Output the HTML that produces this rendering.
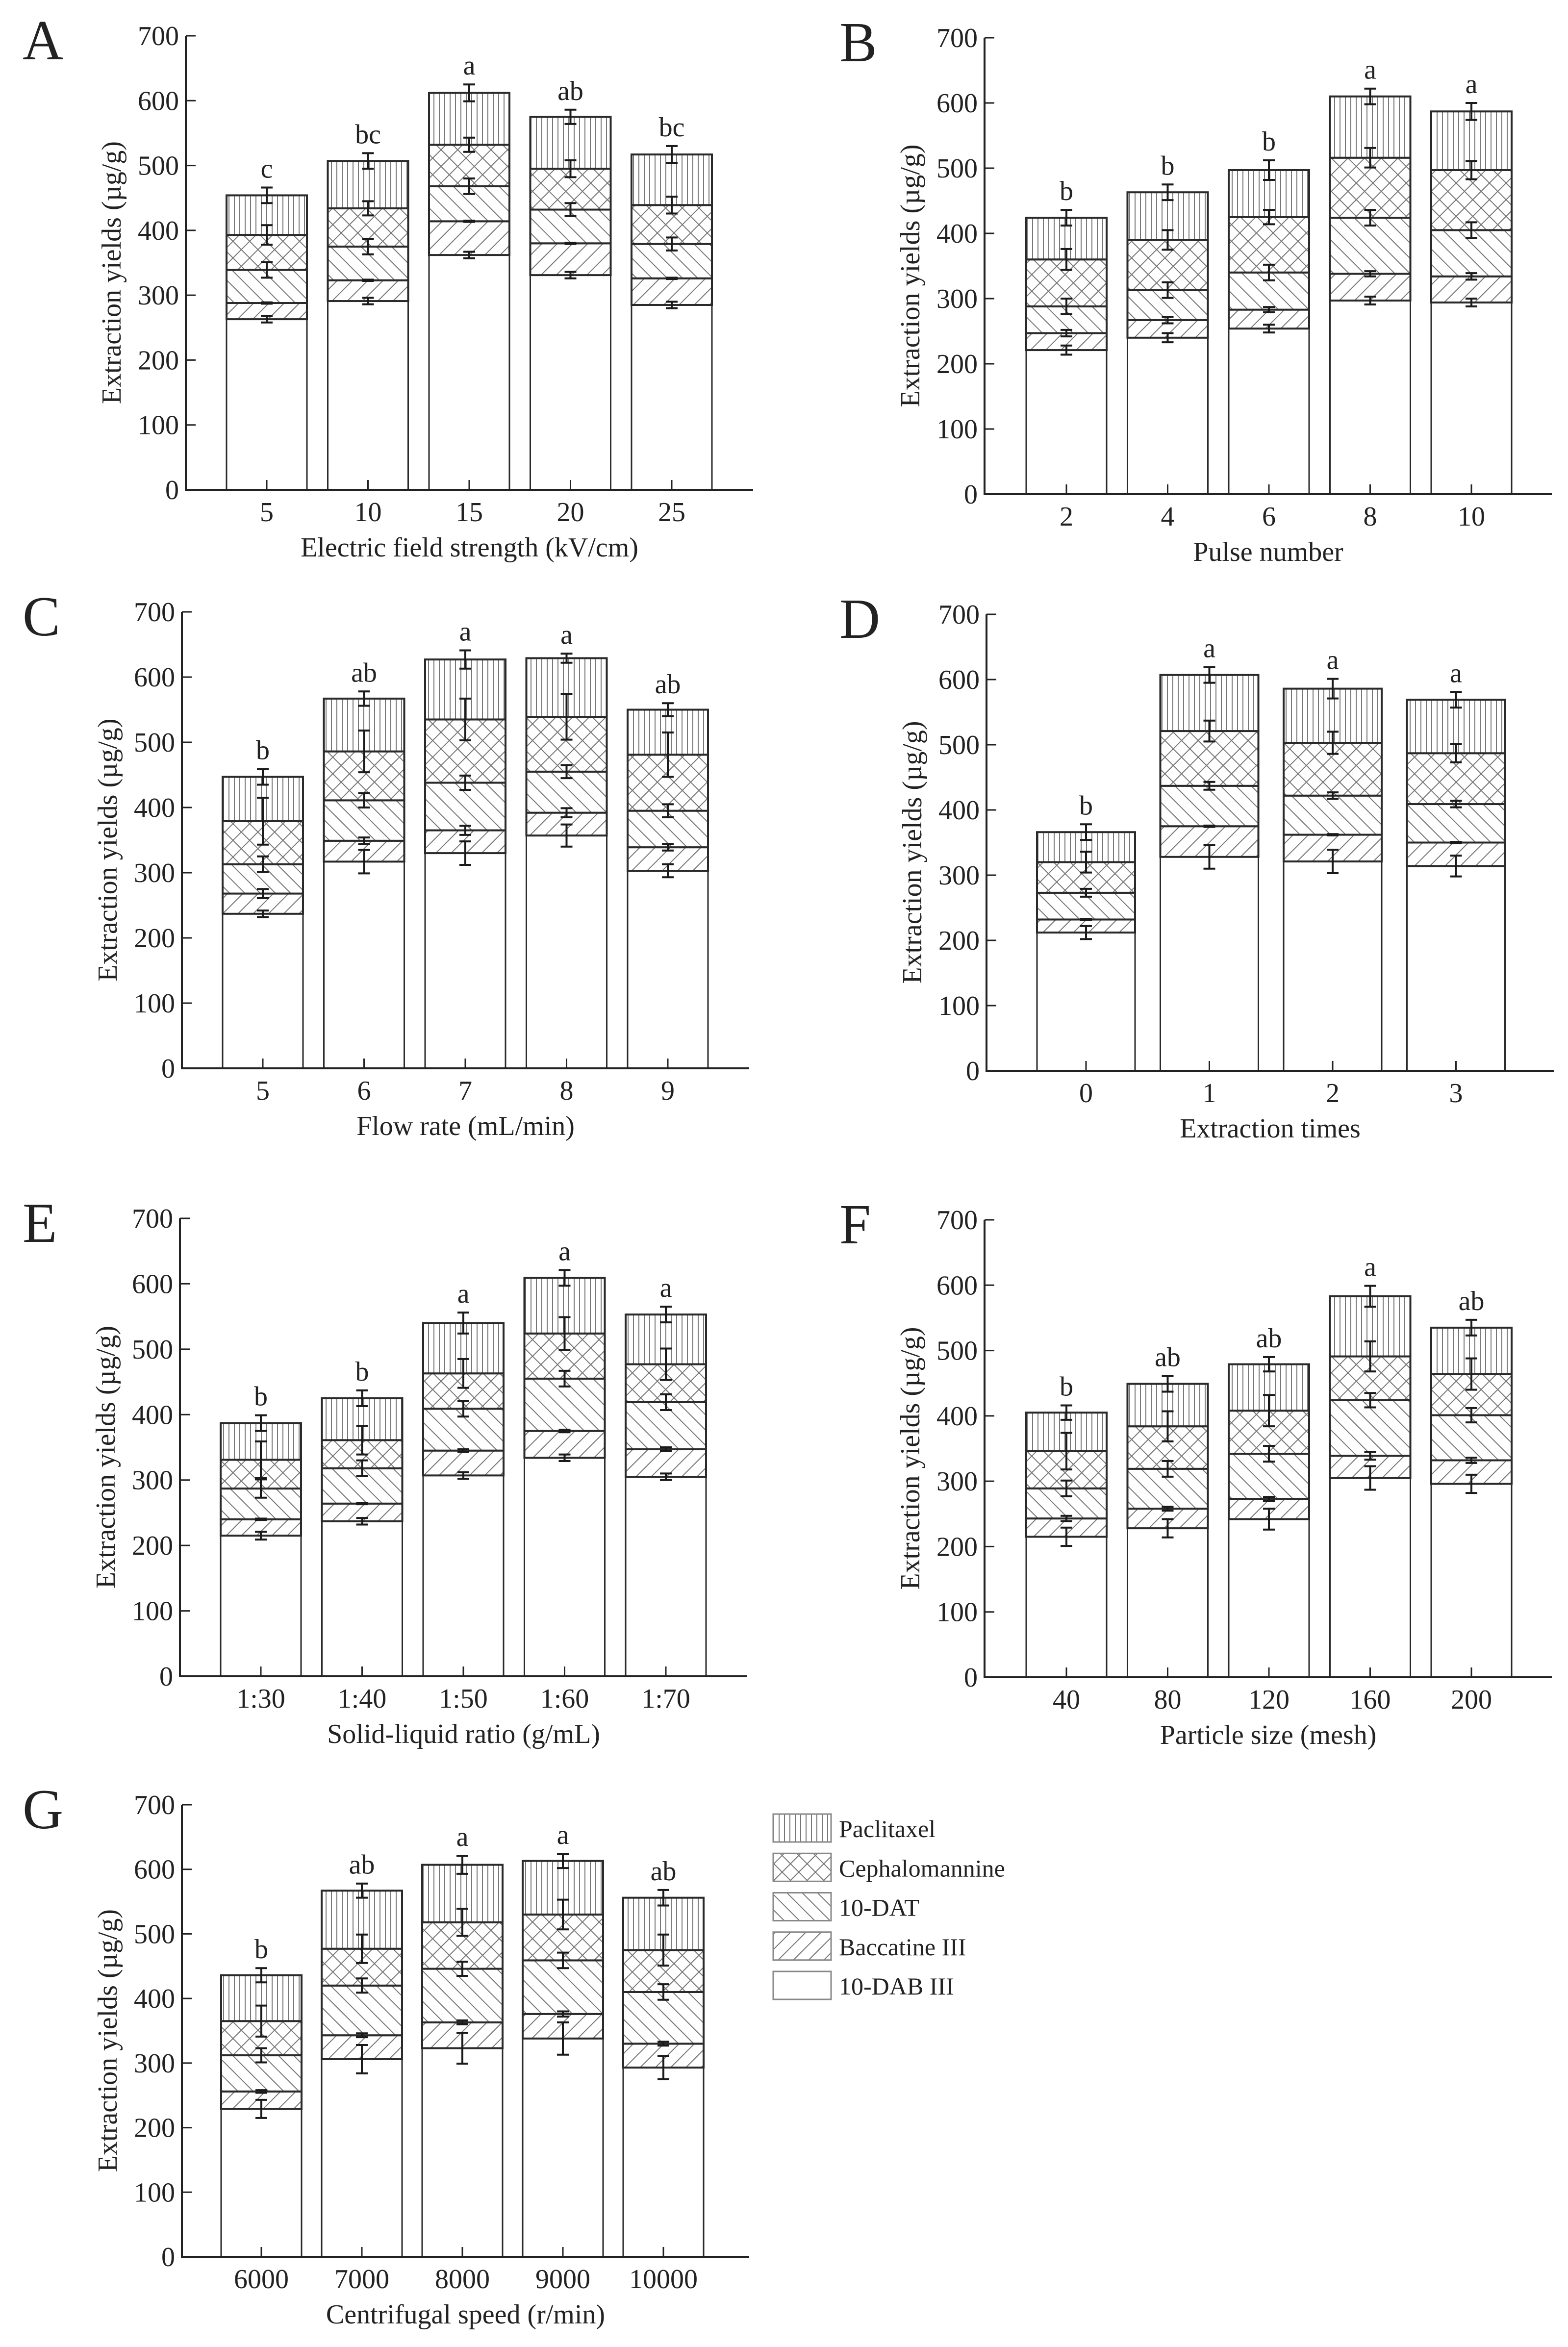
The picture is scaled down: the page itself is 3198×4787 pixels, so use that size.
<!DOCTYPE html>
<html><head><meta charset="utf-8">
<style>
html,body{margin:0;padding:0;background:#fff;}
svg{display:block;}
text{font-family:"Liberation Serif","DejaVu Serif",serif;fill:#222;}
</style></head>
<body>
<svg id="fig" width="3198" height="4787" viewBox="0 0 3198 4787" xmlns="http://www.w3.org/2000/svg">
<defs>
<pattern id="pPac" patternUnits="userSpaceOnUse" width="11" height="11"><rect width="11" height="11" fill="#fff"/><line x1="5" y1="0" x2="5" y2="11" stroke="#777" stroke-width="2"/></pattern>
<pattern id="pCeph" patternUnits="userSpaceOnUse" width="24" height="24" patternTransform="rotate(45)"><rect width="24" height="24" fill="#fff"/><line x1="0" y1="12" x2="24" y2="12" stroke="#777" stroke-width="2"/><line x1="12" y1="0" x2="12" y2="24" stroke="#777" stroke-width="2"/></pattern>
<pattern id="pDat" patternUnits="userSpaceOnUse" width="22" height="22" patternTransform="rotate(45)"><rect width="22" height="22" fill="#fff"/><line x1="0" y1="11" x2="22" y2="11" stroke="#777" stroke-width="2"/></pattern>
<pattern id="pBac" patternUnits="userSpaceOnUse" width="22" height="22" patternTransform="rotate(-45)"><rect width="22" height="22" fill="#fff"/><line x1="0" y1="11" x2="22" y2="11" stroke="#777" stroke-width="2"/></pattern>
</defs>
<g id="root"></g>
</svg>
<script>
// ---- Data (cumulative stack tops, µg/g) ----
const aCats=["5","10","15","20","25"];
const aDAB=[263,291,362,331,285];
const aBac=[288,323,414,380,326];
const aDAT=[339,375,468,432,379];
const aCeph=[393,434,532,495,439];
const aPac=[454,507,612,575,517];
const aErr=[[5,1,12,15,12],[5,1,12,11,12],[5,1,12,11,13],[5,1,10,13,11],[5,1,10,13,13]];
const aSig=["c","bc","a","ab","bc"];

const bCats=["2","4","6","8","10"];
const bDAB=[221,240,254,297,294];
const bBac=[247,267,283,338,334];
const bDAT=[288,313,340,424,405];
const bCeph=[360,390,425,516,497];
const bPac=[424,463,497,610,587];
const bErr=[[7,5,12,16,12],[7,5,12,15,12],[6,4,12,11,15],[6,4,12,15,12],[6,5,12,14,13]];
const bSig=["b","b","b","a","a"];

const cCats=["5","6","7","8","9"];
const cDAB=[237,317,330,357,303];
const cBac=[268,349,365,392,339];
const cDAT=[313,411,438,455,395];
const cCeph=[379,486,535,539,481];
const cPac=[447,567,627,629,550];
const cErr=[[5,7,12,36,12],[18,5,11,32,11],[18,7,11,32,14],[17,7,10,35,7],[10,5,10,34,10]];
const cSig=["b","ab","a","a","ab"];

const dCats=["0","1","2","3"];
const dDAB=[212,328,321,314];
const dBac=[232,375,362,350];
const dDAT=[273,437,422,409];
const dCeph=[320,521,503,487];
const dPac=[366,607,586,569];
const dErr=[[10,1,6,16,12],[18,1,6,16,12],[18,1,5,17,15],[16,1,5,14,12]];
const dSig=["b","a","a","a"];

const eCats=["1:30","1:40","1:50","1:60","1:70"];
const eDAB=[215,237,307,334,305];
const eBac=[240,264,345,375,347];
const eDAT=[287,318,409,455,419];
const eCeph=[331,361,463,524,477];
const ePac=[387,425,540,609,553];
const eErr=[[6,1,14,28,12],[5,1,12,22,12],[5,2,12,22,16],[5,2,12,25,12],[5,3,12,24,12]];
const eSig=["b","b","a","a","a"];

const fCats=["40","80","120","160","200"];
const fDAB=[215,228,242,305,296];
const fBac=[243,258,273,339,332];
const fDAT=[289,319,342,424,401];
const fCeph=[346,384,408,491,464];
const fPac=[405,449,479,583,535];
const fErr=[[14,4,12,28,11],[14,3,12,23,12],[16,3,12,24,11],[18,6,11,23,16],[14,4,11,24,12]];
const fSig=["b","ab","ab","a","ab"];

const gCats=["6000","7000","8000","9000","10000"];
const gDAB=[229,306,323,338,293];
const gBac=[256,343,363,376,330];
const gDAT=[312,420,446,459,410];
const gCeph=[365,477,518,530,475];
const gPac=[436,567,607,613,556];
const gErr=[[14,2,11,24,11],[22,3,11,22,11],[24,3,11,21,14],[25,4,12,23,11],[18,3,12,24,12]];
const gSig=["b","ab","a","a","ab"];

const yTicks=[0,100,200,300,400,500,600,700];
const seriesFills=["url(#pPac)","url(#pCeph)","url(#pDat)","url(#pBac)","#fff"];
const seriesNames=["Paclitaxel","Cephalomannine","10-DAT","Baccatine III","10-DAB III"];

const NS="http://www.w3.org/2000/svg";
const root=document.getElementById('root');
function mk(tag,attrs,parent){const e=document.createElementNS(NS,tag);for(const k in attrs)e.setAttribute(k,attrs[k]);(parent||root).appendChild(e);return e;}

function panel(id,letter,letterX,axX,y0,yTop,cats,dab,bac,dat,ceph,pac,err,sig,xTitle,firstOff,step,barW){
  const g=mk('g',{});
  
  
  const axEnd=axX+1157;
  const ys=v=>y0-(v/700)*(y0-yTop);
  const xs=i=>axX+firstOff+i*step;
  const L=mk('text',{x:letterX,y:yTop+48,'font-size':115},g);L.textContent=letter;
  
  
  const stacks=[dab,bac,dat,ceph,pac];
  const fills=["#fff","url(#pBac)","url(#pDat)","url(#pCeph)","url(#pPac)"];
  const segNames=["dab","baccatine","dat","cephalomannine","paclitaxel"];
  for(let i=0;i<cats.length;i++){
    const cx=xs(i);
    let prev=0;
    for(let s=0;s<5;s++){
      const top=stacks[s][i];
      const r=mk('rect',{x:cx-barW/2,y:ys(top),width:barW,height:ys(prev)-ys(top),fill:fills[s],stroke:'#2a2a2a','stroke-width':s===0?3:4},g);
      
      
      prev=top;
    }
    for(let s=0;s<5;s++){
      const v=stacks[s][i],e=err[i][s];
      const eb=mk('path',{d:`M${cx},${ys(v+e)}V${ys(v-e)}M${cx-12},${ys(v+e)}h24M${cx-12},${ys(v-e)}h24`,stroke:'#1a1a1a','stroke-width':4,fill:'none'},g);
      
      
    }
    const sl=mk('text',{x:cx,y:ys(pac[i]+err[i][4])-20,'font-size':56,'text-anchor':'middle'},g);sl.textContent=sig[i];
    
    
    mk('line',{x1:cx,y1:y0,x2:cx,y2:y0-20,stroke:'#222','stroke-width':3},g);
    const tl=mk('text',{x:cx,y:y0+64,'font-size':56,'text-anchor':'middle'},g);tl.textContent=cats[i];
    
    
  }
  const ax=mk('path',{d:`M${axX},${yTop}V${y0}H${axEnd}`,stroke:'#222','stroke-width':4,fill:'none'},g);
  
  
  for(const t of yTicks){
    mk('line',{x1:axX,y1:ys(t),x2:axX+20,y2:ys(t),stroke:'#222','stroke-width':3},g);
    const yl=mk('text',{x:axX-14,y:ys(t)+19,'font-size':56,'text-anchor':'end'},g);yl.textContent=t;
    
    
  }
  const xt=mk('text',{x:(axX+axEnd)/2,y:y0+136,'font-size':56,'text-anchor':'middle'},g);xt.textContent=xTitle;
  
  
  const cy=(y0+yTop)/2+20, tx=axX-133;
  const yt=mk('text',{x:tx,y:cy,'font-size':56,'text-anchor':'middle',transform:`rotate(-90 ${tx} ${cy})`},g);yt.textContent="Extraction yields (µg/g)";
  
  
}

panel('a','A',46,379,999,73,aCats,aDAB,aBac,aDAT,aCeph,aPac,aErr,aSig,"Electric field strength (kV/cm)",165,206.5,164);
panel('b','B',1712,2008,1008,77,bCats,bDAB,bBac,bDAT,bCeph,bPac,bErr,bSig,"Pulse number",167,206.5,164);
panel('c','C',46,371,2179,1248,cCats,cDAB,cBac,cDAT,cCeph,cPac,cErr,cSig,"Flow rate (mL/min)",165,206.5,164);
panel('d','D',1712,2012,2184,1253,dCats,dDAB,dBac,dDAT,dCeph,dPac,dErr,dSig,"Extraction times",203,251.5,200);
panel('e','E',46,367,3419,2485,eCats,eDAB,eBac,eDAT,eCeph,ePac,eErr,eSig,"Solid-liquid ratio (g/mL)",165,206.5,164);
panel('f','F',1712,2008,3421,2488,fCats,fDAB,fBac,fDAT,fCeph,fPac,fErr,fSig,"Particle size (mesh)",167,206.5,164);
panel('g','G',46,371,4603,3681,gCats,gDAB,gBac,gDAT,gCeph,gPac,gErr,gSig,"Centrifugal speed (r/min)",162,205,164);

const lg=mk('g',{});


for(let k=0;k<5;k++){
  const top=3700+k*80.25;
  const r=mk('rect',{x:1577,y:top,width:118,height:57,fill:seriesFills[k],stroke:'#888','stroke-width':3},lg);
  
  
  const t=mk('text',{x:1711,y:top+47,'font-size':50},lg);t.textContent=seriesNames[k];
  
  
}
</script>
</body></html>
